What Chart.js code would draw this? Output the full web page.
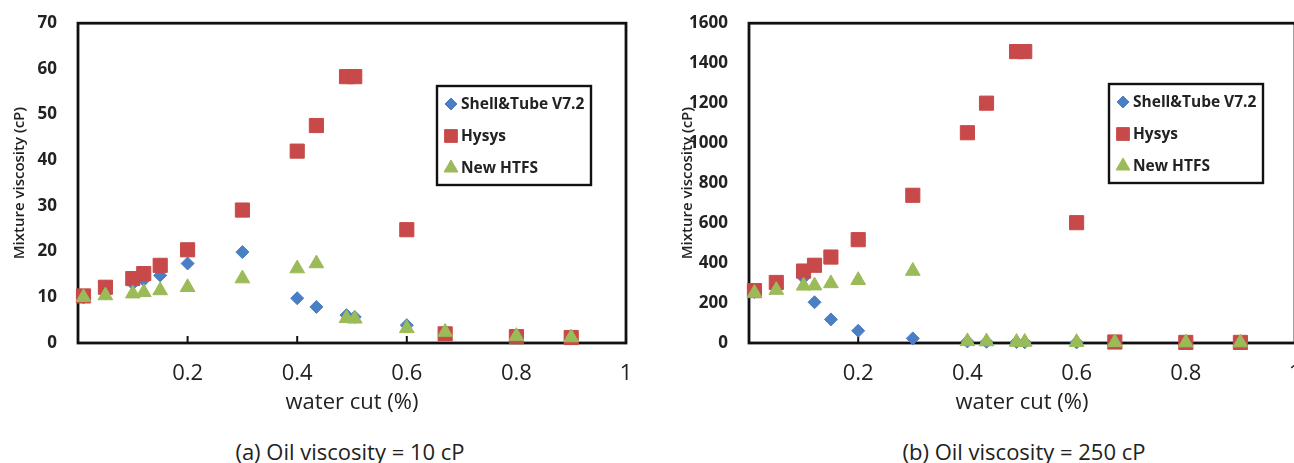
<!DOCTYPE html>
<html>
<head>
<meta charset="utf-8">
<script src="https://cdn.jsdelivr.net/npm/chart.js@4.4.0/dist/chart.umd.min.js"></script>
<style>
html, body { margin:0; padding:0; background:#fff; width:1294px; height:463px; overflow:hidden; position:relative; }
canvas { position:absolute; top:0; }
#cA { left:0; }
#cB { left:660px; }
.cap { position:absolute; top:436px; font-family:'Open Sans'; font-size:22px; line-height:30px; color:#222; transform:translateX(-50%); white-space:nowrap; }
</style>
</head>
<body>
<canvas id="cA" width="660" height="425"></canvas>
<canvas id="cB" width="680" height="425"></canvas>
<div class="cap" style="left:350px">(a) Oil viscosity = 10 cP</div>
<div class="cap" style="left:1024px">(b) Oil viscosity = 250 cP</div>
<script>
// water cut, same points in both panels
var waterCut = [0.01, 0.05, 0.1, 0.12, 0.15, 0.2, 0.3, 0.4, 0.435, 0.49, 0.505, 0.6, 0.67, 0.8, 0.9];

// (a) oil viscosity 10 cP
var shellA = [10, 11, 13, 13.8, 14.8, 17.4, 19.9, 9.8, 7.9, 6.1, 5.7, 3.9, 2.5, 1.5, 1.2];
var hysysA = [10.3, 12.2, 14.1, 15.2, 17.0, 20.4, 29.1, 42.0, 47.6, 58.3, 58.3, 24.8, 2.0, 1.4, 1.2];
var htfsA  = [10.0, 10.4, 10.8, 11.1, 11.5, 12.2, 14.1, 16.3, 17.4, 5.4, 5.3, 3.2, 2.4, 1.5, 1.2];

// (b) oil viscosity 250 cP
var shellB = [255, 280, 327, 204, 118, 61, 23, 8, 6, 5, 4, 3, 2, 2, 2];
var hysysB = [262, 303, 360, 389, 430, 517, 739, 1052, 1200, 1458, 1458, 602, 5, 3, 3];
var htfsB  = [250, 265, 286, 287, 298, 314, 360, 8, 7, 5, 5, 4, 3, 2, 2];

var xTicks = [0.2, 0.4, 0.6, 0.8, 1];
var yTicksA = [0, 10, 20, 30, 40, 50, 60, 70];
var yTicksB = [0, 200, 400, 600, 800, 1000, 1200, 1400, 1600];

var seriesNames = ['Shell&Tube V7.2', 'Hysys', 'New HTFS'];

Chart.defaults.font.family = "'Open Sans', sans-serif";
Chart.defaults.color = '#222';

function pts(vals) {
  return waterCut.map(function(x, i) { return { x: x, y: vals[i] }; });
}

function makeSets(shell, hysys, htfs) {
  return [
    { label: seriesNames[0], data: pts(shell), pointStyle: 'rectRot', pointRadius: 6.5,
      backgroundColor: '#4a7ec5', borderColor: '#4a7ec5', borderWidth: 1, order: 3, clip: false },
    { label: seriesNames[1], data: pts(hysys), pointStyle: 'rect', pointRadius: 10,
      backgroundColor: '#c8494a', borderColor: '#c8494a', borderWidth: 1, order: 2, clip: false },
    { label: seriesNames[2], data: pts(htfs), pointStyle: 'triangle', pointRadius: 8.5,
      backgroundColor: '#9bbb59', borderColor: '#9bbb59', borderWidth: 1, order: 1, clip: false }
  ];
}

// box round the plot and small tick marks pointing inward
var framePlugin = {
  id: 'frame',
  beforeDatasetsDraw: function(chart) {
    var a = chart.chartArea, ctx = chart.ctx, sx = chart.scales.x;
    ctx.save();
    ctx.strokeStyle = '#111';
    ctx.lineWidth = 2.8;
    ctx.strokeRect(a.left, a.top, a.right - a.left, a.bottom - a.top);
    ctx.lineWidth = 2;
    sx.ticks.forEach(function(t) {
      var px = sx.getPixelForValue(t.value);
      ctx.beginPath();
      ctx.moveTo(px, a.bottom);
      ctx.lineTo(px, a.bottom - 7);
      ctx.stroke();
    });
    ctx.restore();
  }
};

// legend with a black border, placed inside the plot
var boxLegend = {
  id: 'boxLegend',
  afterDraw: function(chart, args, o) {
    var ctx = chart.ctx;
    var radii = [6, 9, 8];
    ctx.save();
    ctx.fillStyle = '#fff';
    ctx.fillRect(o.x, o.y, o.w, o.h);
    ctx.strokeStyle = '#111';
    ctx.lineWidth = 2.4;
    ctx.strokeRect(o.x, o.y, o.w, o.h);
    ctx.textBaseline = 'middle';
    ctx.font = "bold 15.5px 'Open Sans'";
    chart.data.datasets.forEach(function(ds, i) {
      var cy = o.y + 18 + i * 32;
      ctx.fillStyle = ds.backgroundColor;
      ctx.strokeStyle = ds.borderColor;
      ctx.lineWidth = 1;
      Chart.helpers.drawPoint(ctx, { pointStyle: ds.pointStyle, radius: radii[i], rotation: 0, borderWidth: 1 }, o.x + 14, cy);
      ctx.fillStyle = '#222';
      ctx.fillText(ds.label, o.x + 24, cy + 1);
    });
    ctx.restore();
  }
};

function makeChart(id, sets, ymax, yTicks, yWidth, titlePad, padRight, padTop, legendPos) {
  return new Chart(document.getElementById(id), {
    type: 'scatter',
    data: { datasets: sets },
    plugins: [framePlugin, boxLegend],
    options: {
      responsive: false,
      animation: false,
      layout: { padding: { left: 0, right: padRight, top: padTop, bottom: 0 } },
      plugins: {
        legend: { display: false },
        tooltip: { enabled: false },
        boxLegend: legendPos
      },
      scales: {
        x: {
          type: 'linear', min: 0, max: 1,
          afterBuildTicks: function(s) { s.ticks = xTicks.map(function(v) { return { value: v }; }); },
          afterFit: function(s) { s.height = 82; },
          grid: { display: false },
          border: { display: false },
          ticks: { padding: 10, font: { size: 22 }, autoSkip: false, maxRotation: 0,
                   callback: function(v) { return String(v); } },
          title: { display: true, text: 'water cut (%)', font: { size: 22 }, padding: { top: 0, bottom: 9 } }
        },
        y: {
          type: 'linear', min: 0, max: ymax,
          afterBuildTicks: function(s) { s.ticks = yTicks.map(function(v) { return { value: v }; }); },
          afterFit: function(s) { s.width = yWidth; },
          grid: { display: false },
          border: { display: false },
          ticks: { padding: 13, font: { size: 17, weight: 'bold' }, autoSkip: false,
                   callback: function(v) { return String(v); } },
          title: { display: true, text: 'Mixture viscosity (cP)', font: { size: 15, weight: '600' },
                   padding: { top: titlePad, bottom: 0 } }
        }
      }
    }
  });
}

makeChart('cA', makeSets(shellA, hysysA, htfsA), 70, yTicksA, 78, 11, 34, 20,
  { x: 437, y: 86, w: 154, h: 99 });
makeChart('cB', makeSets(shellB, hysysB, htfsB), 1600, yTicksB, 89, 19, 45, 19,
  { x: 449, y: 84, w: 154, h: 99 });
</script>
</body>
</html>
